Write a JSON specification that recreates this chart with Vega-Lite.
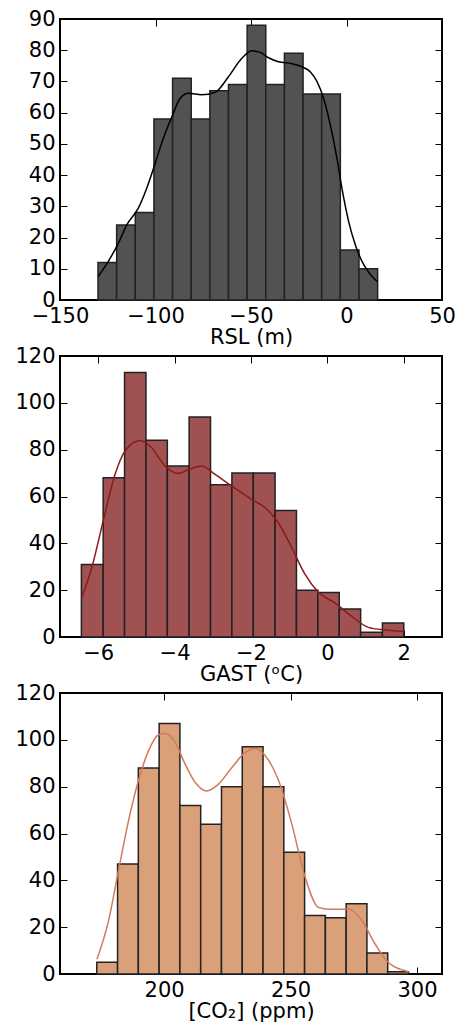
{
  "$schema": "https://vega.github.io/schema/vega-lite/v6.json",
  "padding": {"left": 13, "top": 7, "right": 0, "bottom": 0},
  "autosize": {"type": "pad"},
  "background": "white",
  "bounds": "flush",
  "spacing": 56,
  "config": {
    "font": "DejaVu Sans",
    "view": {"stroke": "#000", "strokeWidth": 2},
    "axis": {"domain": false, "grid": false, "tickColor": "#000", "tickWidth": 1, "tickSize": -7,
      "labelFlush": false, "labelOverlap": false,
      "labelFontSize": 21, "labelColor": "#000", "labelFont": "DejaVu Sans",
      "titleFont": "DejaVu Sans", "titleFontSize": 21, "titleFontWeight": "normal", "titleColor": "#000"},
    "axisLeft": {"labelPadding": 12},
    "axisBottom": {"labelPadding": 12, "titlePadding": 0}
  },
  "datasets": {
    "rsl_hist": [
      {"start": -130.1, "end": -120.34, "count": 12},
      {"start": -120.34, "end": -110.58, "count": 24},
      {"start": -110.58, "end": -100.82, "count": 28},
      {"start": -100.82, "end": -91.06, "count": 58},
      {"start": -91.06, "end": -81.3, "count": 71},
      {"start": -81.3, "end": -71.54, "count": 58},
      {"start": -71.54, "end": -61.78, "count": 67},
      {"start": -61.78, "end": -52.02, "count": 69},
      {"start": -52.02, "end": -42.26, "count": 88},
      {"start": -42.26, "end": -32.5, "count": 69},
      {"start": -32.5, "end": -22.74, "count": 79},
      {"start": -22.74, "end": -12.98, "count": 66},
      {"start": -12.98, "end": -3.22, "count": 66},
      {"start": -3.22, "end": 6.54, "count": 16},
      {"start": 6.54, "end": 16.3, "count": 10}
    ],
    "rsl_kde": [
      {"x": -130.1, "y": 7.5}, {"x": -124.7, "y": 12.4}, {"x": -119.4, "y": 18.2}, {"x": -115.1, "y": 24.0},
      {"x": -109.0, "y": 29.4}, {"x": -104.6, "y": 35.8}, {"x": -100.7, "y": 42.8}, {"x": -95.9, "y": 51.8},
      {"x": -91.0, "y": 59.3}, {"x": -87.1, "y": 64.6}, {"x": -82.8, "y": 66.2}, {"x": -75.8, "y": 65.7},
      {"x": -68.8, "y": 66.5}, {"x": -61.8, "y": 71.5}, {"x": -54.8, "y": 77.4}, {"x": -49.6, "y": 79.8},
      {"x": -45.2, "y": 79.3}, {"x": -40.8, "y": 77.6}, {"x": -35.6, "y": 76.3}, {"x": -28.6, "y": 75.7},
      {"x": -23.4, "y": 74.7}, {"x": -19.0, "y": 73.1}, {"x": -15.5, "y": 70.0}, {"x": -12.0, "y": 64.6},
      {"x": -8.5, "y": 56.1}, {"x": -5.0, "y": 45.4}, {"x": -2.4, "y": 35.8}, {"x": 1.1, "y": 25.2},
      {"x": 4.6, "y": 17.7}, {"x": 9.0, "y": 11.3}, {"x": 13.3, "y": 7.6}, {"x": 16.3, "y": 5.8}
    ],
    "gast_hist": [
      {"start": -6.44, "end": -5.87, "count": 31},
      {"start": -5.87, "end": -5.31, "count": 68},
      {"start": -5.31, "end": -4.75, "count": 113},
      {"start": -4.75, "end": -4.19, "count": 84},
      {"start": -4.19, "end": -3.62, "count": 73},
      {"start": -3.62, "end": -3.06, "count": 94},
      {"start": -3.06, "end": -2.5, "count": 65},
      {"start": -2.5, "end": -1.94, "count": 70},
      {"start": -1.94, "end": -1.37, "count": 70},
      {"start": -1.37, "end": -0.81, "count": 54},
      {"start": -0.81, "end": -0.25, "count": 20},
      {"start": -0.25, "end": 0.31, "count": 19},
      {"start": 0.31, "end": 0.87, "count": 12},
      {"start": 0.87, "end": 1.44, "count": 2},
      {"start": 1.44, "end": 2.0, "count": 6}
    ],
    "gast_kde": [
      {"x": -6.44, "y": 16.4}, {"x": -6.17, "y": 29.5}, {"x": -5.87, "y": 49.5}, {"x": -5.56, "y": 69.4},
      {"x": -5.3, "y": 79.4}, {"x": -4.91, "y": 83.9}, {"x": -4.6, "y": 80.8}, {"x": -4.25, "y": 73.0},
      {"x": -3.9, "y": 69.8}, {"x": -3.64, "y": 71.5}, {"x": -3.29, "y": 73.0}, {"x": -2.94, "y": 69.4},
      {"x": -2.5, "y": 64.4}, {"x": -1.98, "y": 58.7}, {"x": -1.63, "y": 55.2}, {"x": -1.28, "y": 48.7},
      {"x": -0.93, "y": 38.0}, {"x": -0.58, "y": 26.6}, {"x": -0.24, "y": 19.2}, {"x": 0.2, "y": 14.5},
      {"x": 0.64, "y": 8.8}, {"x": 1.07, "y": 4.1}, {"x": 1.51, "y": 3.0}, {"x": 2.0, "y": 2.4}
    ],
    "co2_hist": [
      {"start": 173.35, "end": 181.57, "count": 5},
      {"start": 181.57, "end": 189.79, "count": 47},
      {"start": 189.79, "end": 198.01, "count": 88},
      {"start": 198.01, "end": 206.23, "count": 107},
      {"start": 206.23, "end": 214.45, "count": 72},
      {"start": 214.45, "end": 222.67, "count": 64},
      {"start": 222.67, "end": 230.89, "count": 80},
      {"start": 230.89, "end": 239.11, "count": 97},
      {"start": 239.11, "end": 247.33, "count": 80},
      {"start": 247.33, "end": 255.55, "count": 52},
      {"start": 255.55, "end": 263.77, "count": 25},
      {"start": 263.77, "end": 271.99, "count": 24},
      {"start": 271.99, "end": 280.21, "count": 30},
      {"start": 280.21, "end": 288.43, "count": 9},
      {"start": 288.43, "end": 296.65, "count": 1}
    ],
    "co2_kde": [
      {"x": 173.4, "y": 6.3}, {"x": 178.0, "y": 22.7}, {"x": 181.9, "y": 44.0}, {"x": 185.9, "y": 65.4},
      {"x": 189.8, "y": 82.5}, {"x": 193.8, "y": 95.3}, {"x": 197.8, "y": 102.2}, {"x": 200.4, "y": 102.7},
      {"x": 204.4, "y": 98.9}, {"x": 208.3, "y": 89.6}, {"x": 212.3, "y": 81.8}, {"x": 216.9, "y": 78.2},
      {"x": 221.5, "y": 81.1}, {"x": 226.8, "y": 88.2}, {"x": 232.1, "y": 94.6}, {"x": 236.0, "y": 96.3},
      {"x": 240.0, "y": 93.2}, {"x": 245.3, "y": 82.5}, {"x": 250.5, "y": 64.0}, {"x": 255.8, "y": 41.2},
      {"x": 261.1, "y": 28.4}, {"x": 266.4, "y": 27.6}, {"x": 273.0, "y": 27.6}, {"x": 278.3, "y": 22.7},
      {"x": 283.5, "y": 12.7}, {"x": 288.8, "y": 4.8}, {"x": 296.7, "y": 1.0}
    ]
  },
  "vconcat": [
    {
      "width": 382, "height": 281,
      "resolve": {"axis": {"x": "independent", "y": "independent"}},
      "layer": [
        {
          "data": {"name": "rsl_hist"},
          "mark": {"type": "bar", "fill": "#525252", "stroke": "#222222", "strokeWidth": 1.5},
          "encoding": {
            "x": {"field": "start", "type": "quantitative", "scale": {"domain": [-150, 50], "nice": false, "zero": false},
              "axis": {"values": [-150, -100, -50, 0, 50], "title": "RSL (m)"}},
            "x2": {"field": "end"},
            "y": {"field": "count", "type": "quantitative", "scale": {"domain": [0, 90], "nice": false},
              "axis": {"values": [0, 10, 20, 30, 40, 50, 60, 70, 80, 90], "title": null}},
            "y2": {"datum": 0}
          }
        },
        {
          "data": {"name": "rsl_kde"},
          "mark": {"type": "line", "color": "#000000", "strokeWidth": 1.5, "interpolate": "monotone"},
          "encoding": {
            "x": {"field": "x", "type": "quantitative", "scale": {"domain": [-150, 50], "nice": false, "zero": false},
              "axis": {"orient": "top", "labels": false, "title": null, "values": [-150, -100, -50, 0, 50]}},
            "y": {"field": "y", "type": "quantitative", "scale": {"domain": [0, 90], "nice": false},
              "axis": {"orient": "right", "labels": false, "title": null, "values": [0, 10, 20, 30, 40, 50, 60, 70, 80, 90]}}
          }
        }
      ]
    },
    {
      "width": 382, "height": 281,
      "resolve": {"axis": {"x": "independent", "y": "independent"}},
      "layer": [
        {
          "data": {"name": "gast_hist"},
          "mark": {"type": "bar", "fill": "#a05252", "stroke": "#222222", "strokeWidth": 1.5},
          "encoding": {
            "x": {"field": "start", "type": "quantitative", "scale": {"domain": [-7, 3], "nice": false, "zero": false},
              "axis": {"values": [-6, -4, -2, 0, 2], "title": "GAST (ᵒC)"}},
            "x2": {"field": "end"},
            "y": {"field": "count", "type": "quantitative", "scale": {"domain": [0, 120], "nice": false},
              "axis": {"values": [0, 20, 40, 60, 80, 100, 120], "title": null}},
            "y2": {"datum": 0}
          }
        },
        {
          "data": {"name": "gast_kde"},
          "mark": {"type": "line", "color": "#8b1a1a", "strokeWidth": 1.5, "interpolate": "monotone"},
          "encoding": {
            "x": {"field": "x", "type": "quantitative", "scale": {"domain": [-7, 3], "nice": false, "zero": false},
              "axis": {"orient": "top", "labels": false, "title": null, "values": [-6, -4, -2, 0, 2]}},
            "y": {"field": "y", "type": "quantitative", "scale": {"domain": [0, 120], "nice": false},
              "axis": {"orient": "right", "labels": false, "title": null, "values": [0, 20, 40, 60, 80, 100, 120]}}
          }
        }
      ]
    },
    {
      "width": 382, "height": 281,
      "resolve": {"axis": {"x": "independent", "y": "independent"}},
      "layer": [
        {
          "data": {"name": "co2_hist"},
          "mark": {"type": "bar", "fill": "#daa07a", "stroke": "#222222", "strokeWidth": 1.5},
          "encoding": {
            "x": {"field": "start", "type": "quantitative", "scale": {"domain": [158.8, 309.9], "nice": false, "zero": false},
              "axis": {"values": [200, 250, 300], "title": "[CO₂] (ppm)"}},
            "x2": {"field": "end"},
            "y": {"field": "count", "type": "quantitative", "scale": {"domain": [0, 120], "nice": false},
              "axis": {"values": [0, 20, 40, 60, 80, 100, 120], "title": null}},
            "y2": {"datum": 0}
          }
        },
        {
          "data": {"name": "co2_kde"},
          "mark": {"type": "line", "color": "#d27a5c", "strokeWidth": 1.5, "interpolate": "monotone"},
          "encoding": {
            "x": {"field": "x", "type": "quantitative", "scale": {"domain": [158.8, 309.9], "nice": false, "zero": false},
              "axis": {"orient": "top", "labels": false, "title": null, "values": [200, 250, 300]}},
            "y": {"field": "y", "type": "quantitative", "scale": {"domain": [0, 120], "nice": false},
              "axis": {"orient": "right", "labels": false, "title": null, "values": [0, 20, 40, 60, 80, 100, 120]}}
          }
        }
      ]
    }
  ]
}
